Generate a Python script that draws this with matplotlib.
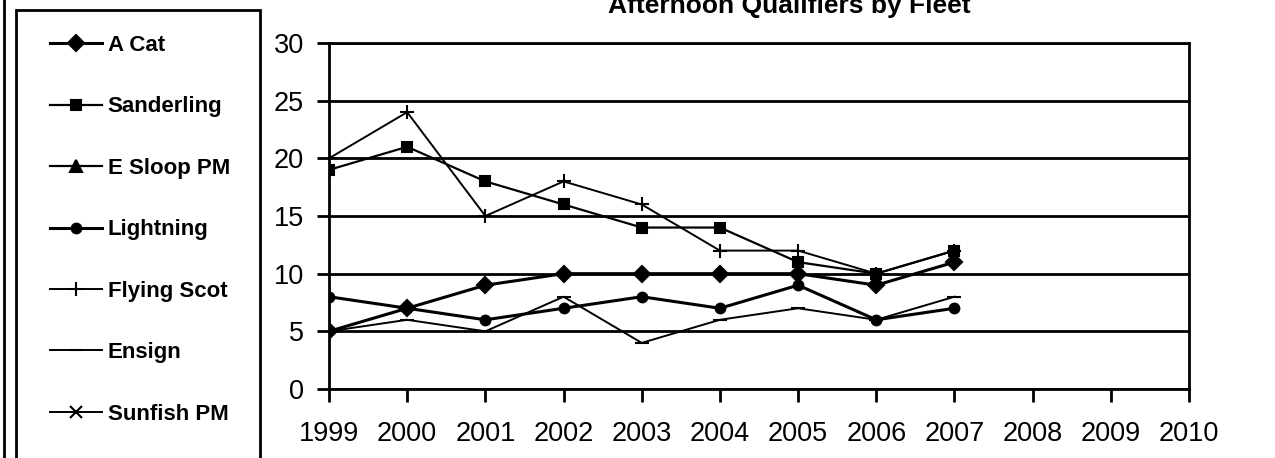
import matplotlib.pyplot as plt
import matplotlib.patches as mpatches
import numpy as np

years = [1999, 2000, 2001, 2002, 2003, 2004, 2005, 2006, 2007]
a_cat = [5, 7, 9, 10, 10, 10, 10, 9, 11]
sanderling = [19, 21, 18, 16, 14, 14, 11, 10, 12]
e_sloop_pm = [np.nan] * 9
lightning = [8, 7, 6, 7, 8, 7, 9, 6, 7]
flying_scot = [20, 24, 15, 18, 16, 12, 12, 10, 12]
ensign = [5, 6, 5, 8, 4, 6, 7, 6, 8]
sunfish_pm = [np.nan] * 9

year_ticks = list(range(1999, 2011))
y_ticks = [0, 5, 10, 15, 20, 25, 30]

text_font = ['Liberation Sans', 'DejaVu Sans']

fig = plt.figure(figsize=(12.75, 4.58), dpi=100)
W, H = 1275, 458
ax = fig.add_axes([329/W, 1-389/H, (1189-329)/W, (389-43)/H])

series = [
    ('A Cat', a_cat, 'D', 8, 2.2),
    ('Sanderling', sanderling, 's', 7, 1.6),
    ('E Sloop PM', e_sloop_pm, '^', 8, 1.6),
    ('Lightning', lightning, 'o', 7, 2.2),
    ('Flying Scot', flying_scot, '+', 10, 1.4),
    ('Ensign', ensign, '_', 10, 1.4),
    ('Sunfish PM', sunfish_pm, 'x', 8, 1.4),
]
for name, vals, mk, ms, lw in series:
    ax.plot(years, vals, color='black', marker=mk, markersize=ms, linewidth=lw,
            markeredgewidth=1.5, label=name, zorder=3)

ax.set_xlim(1999, 2010)
ax.set_ylim(0, 30)
ax.set_xticks(year_ticks)
ax.set_yticks(y_ticks)
ax.set_xticklabels([str(y) for y in year_ticks], fontfamily=text_font, fontsize=19.5)
ax.set_yticklabels([str(y) for y in y_ticks], fontfamily=text_font, fontsize=19.5)
ax.tick_params(axis='x', length=9, width=2, pad=14, direction='out')
ax.tick_params(axis='y', length=9, width=2, pad=9, direction='out')
ax.yaxis.grid(True, color='black', linewidth=2)
for s in ax.spines.values():
    s.set_linewidth(2)
    s.set_color('black')

fig.text(789/W, 1-13/H, 'Afternoon Qualifiers by Fleet', ha='center', va='baseline',
         fontsize=19, fontweight='bold', fontfamily=text_font)

# legend box drawn separately so it can run off the bottom edge
fig.add_artist(mpatches.Rectangle((16/W, -0.05), (260-16)/W, 1.05-10/H, transform=fig.transFigure,
                                  fill=False, edgecolor='black', linewidth=2))
leg = fig.legend(loc='upper left', bbox_to_anchor=(50/W, 1-35/H), frameon=False,
                 labelspacing=1.82, handlelength=2.35, handletextpad=0.25,
                 borderpad=0, borderaxespad=0,
                 prop={'family': text_font, 'weight': 'bold', 'size': 16})

fig.add_artist(mpatches.Rectangle((4/W, -0.05), 1.5, 1.1, transform=fig.transFigure,
                                  fill=False, edgecolor='black', linewidth=2))

fig.savefig('out.png', dpi=100)
